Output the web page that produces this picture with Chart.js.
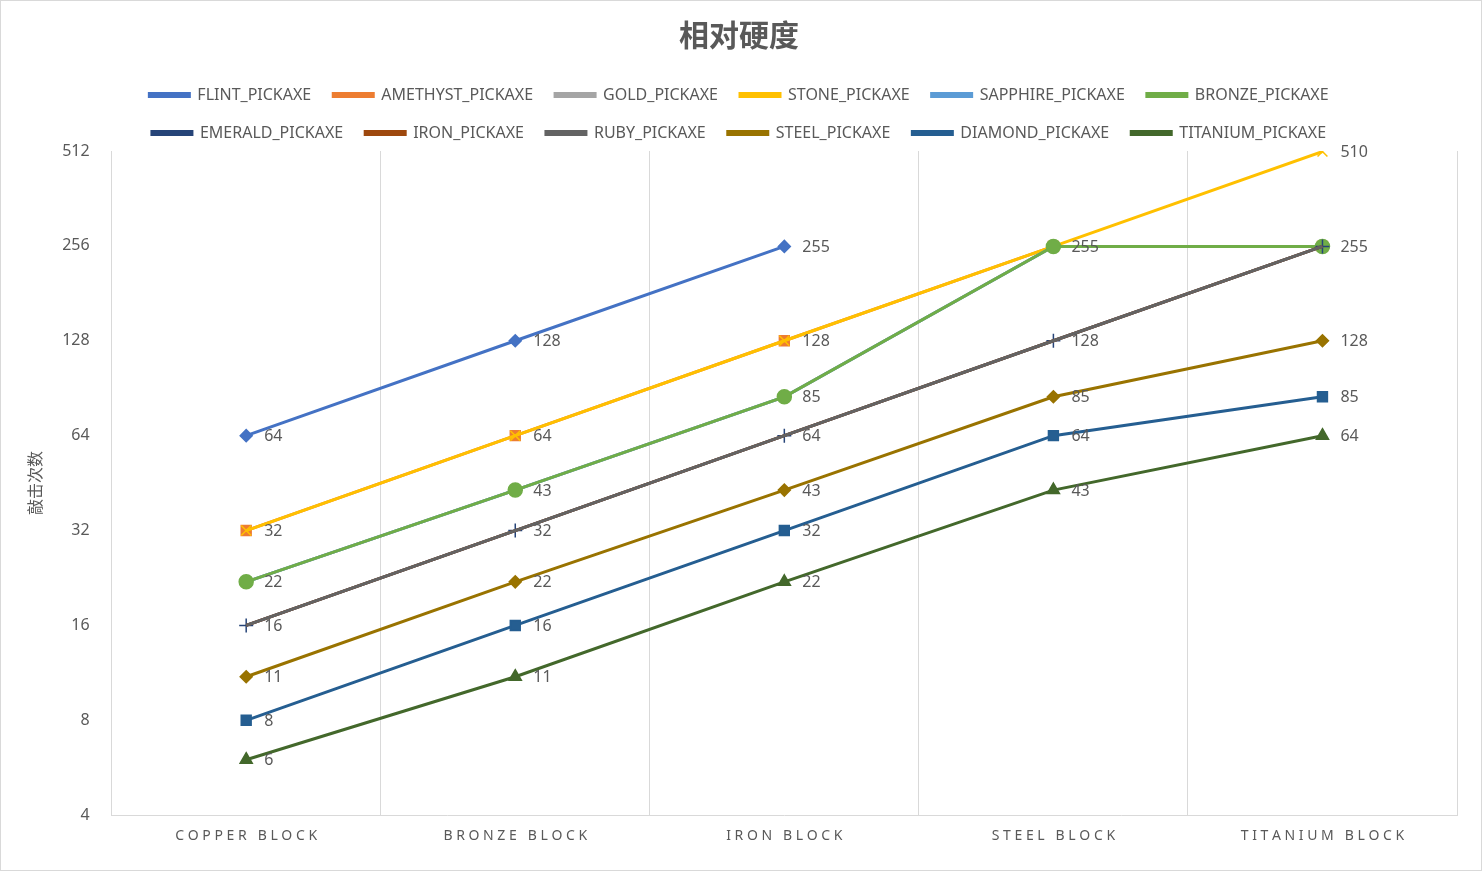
<!DOCTYPE html>
<html><head><meta charset="utf-8">
<script src="https://cdn.jsdelivr.net/npm/chart.js@4"></script>
<style>html,body{margin:0;background:#fff}#w{width:1482px;height:871px;box-sizing:border-box;border:1px solid #d9d9d9}</style>
</head><body><div id="w"><canvas id="c"></canvas></div>
<script>
const categories=["COPPER BLOCK","BRONZE BLOCK","IRON BLOCK","STEEL BLOCK","TITANIUM BLOCK"];
const yTicks=[4,8,16,32,64,128,256,512];
const flint=[64,128,255,null,null];
const amethyst=[32,64,128,255,255];
const gold=[22,43,85,255,255];
const stone=[32,64,128,255,510];
const sapphire=[22,43,85,255,255];
const bronze=[22,43,85,255,255];
const emerald=[16,32,64,128,255];
const iron=[16,32,64,128,255];
const ruby=[16,32,64,128,255];
const steel=[11,22,43,85,128];
const diamond=[8,16,32,64,85];
const titanium=[6,11,22,43,64];
const defs=[
["FLINT_PICKAXE",flint,"#4472C4","rectRot",6],
["AMETHYST_PICKAXE",amethyst,"#ED7D31","rect",7],
["GOLD_PICKAXE",gold,"#A5A5A5","triangle",6],
["STONE_PICKAXE",stone,"#FFC000","crossRot",7],
["SAPPHIRE_PICKAXE",sapphire,"#5B9BD5","star",6],
["BRONZE_PICKAXE",bronze,"#70AD47","circle",7],
["EMERALD_PICKAXE",emerald,"#264478","cross",7],
["IRON_PICKAXE",iron,"#9E480E","circle",0],
["RUBY_PICKAXE",ruby,"#636363","circle",0],
["STEEL_PICKAXE",steel,"#997300","rectRot",6],
["DIAMOND_PICKAXE",diamond,"#255E91","rect",7],
["TITANIUM_PICKAXE",titanium,"#43682B","triangle",7]];
const datasets=defs.map((d,i)=>({label:d[0],data:d[1],borderColor:d[2],backgroundColor:d[2],pointStyle:d[3],pointRadius:d[4],pointBorderWidth:1.5,borderWidth:3,order:20-i}));
const labelPlugin={id:'lbl',afterDatasetsDraw(chart){const ctx=chart.ctx;const seen=new Set();ctx.save();ctx.font='16px "Noto Sans","Liberation Sans"';ctx.fillStyle='#595959';ctx.textBaseline='middle';
for(let i=datasets.length-1;i>=0;i--){const m=chart.getDatasetMeta(i);datasets[i].data.forEach((v,j)=>{if(v==null)return;const k=j+'_'+v;if(seen.has(k))return;seen.add(k);const p=m.data[j];ctx.fillText(String(v),p.x+18,p.y+1);});}
ctx.restore();}};
new Chart(document.getElementById('c'),{type:'line',data:{labels:categories,datasets},
plugins:[labelPlugin],
options:{responsive:true,maintainAspectRatio:false,animation:false,
layout:{padding:{left:20,right:24,top:10,bottom:14}},
plugins:{title:{display:true,text:'相对硬度',font:{size:30,weight:'bold',family:'"Noto Sans CJK SC"'},color:'#595959',padding:{top:6,bottom:12}},
legend:{position:'top',labels:{sort:(a,b)=>a.datasetIndex-b.datasetIndex,boxWidth:40,boxHeight:3,padding:22,color:'#595959',font:{size:16,family:'"Noto Sans","Liberation Sans"'}}},tooltip:{enabled:false}},
scales:{x:{offset:true,grid:{offset:true,color:'#d9d9d9',drawTicks:false},border:{color:'#d9d9d9'},ticks:{color:'#595959',padding:12,font:{size:14,family:'"Noto Sans","Liberation Sans"'},callback:function(v){return categories[v].split('').join(' ');}}},
y:{type:'logarithmic',min:4,max:512,afterBuildTicks(ax){ax.ticks=yTicks.map(v=>({value:v}));},grid:{display:false},border:{display:false},
ticks:{color:'#595959',padding:14,font:{size:16,family:'"Noto Sans","Liberation Sans"'},callback:v=>String(v)},
title:{display:true,text:'敲击次数',color:'#595959',font:{size:16,family:'"Noto Sans CJK SC"'}}}}}});
</script></body></html>
